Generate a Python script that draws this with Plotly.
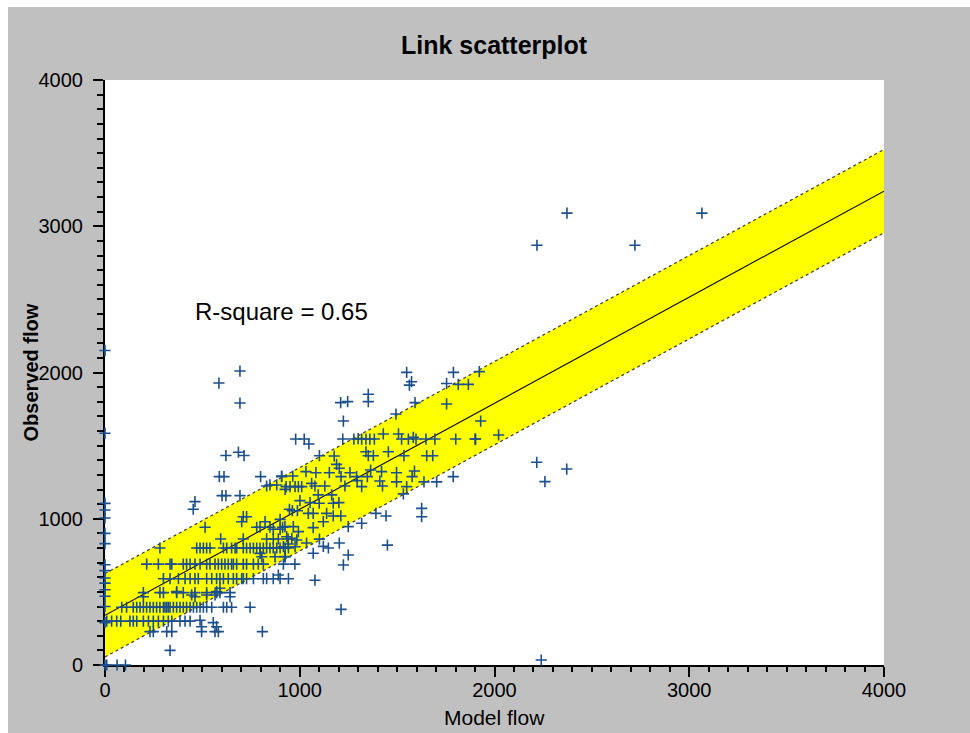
import plotly.graph_objects as go

# ---- observed vs modelled link flows --------------------------------------
model_flow = [
    # links with zero model flow
    0, 0, 0, 0, 0, 0, 0, 0, 0, 0, 0, 0, 0, 0, 0, 0,
    # zero observed flow
    9, 62, 105,
    # low observed flows
    334, 231, 248, 317, 343, 496, 565, 582, 808, 556, 573, 488, 496,
    # 300 row
    9, 34, 60, 81, 128, 145, 163, 197, 223, 248, 274, 300, 325, 343, 385, 411, 437,
    # 400 row
    86, 111, 145, 163, 180, 197, 214, 231, 248, 265, 282, 300, 308, 317, 325, 334,
    351, 368, 385, 402, 419, 437, 454, 471, 488, 505, 522, 548, 608, 625, 650, 745, 1212,
    # 500 row
    197, 282, 300, 368, 402, 462, 522, 573, 590, 642,
    # around 500
    197, 368, 445, 462, 522, 573, 565, 590, 642,
    # 590 row
    300, 334, 377, 411, 437, 462, 479, 522, 548, 573, 590, 608, 633, 659, 676, 702,
    710, 727, 762, 813, 830, 864, 899, 942, 1078, 890,
    # 690 row
    214, 274, 334, 343, 402, 419, 437, 462, 488, 522, 539, 565, 582, 599, 616, 633,
    650, 659, 676, 710, 727, 762, 787, 813, 916, 975,
    # 800 row
    282, 471, 488, 505, 522, 539, 608, 625, 650, 668, 676, 710, 727, 745, 762, 779,
    796, 813, 830, 847, 864, 882, 899, 925, 942,
    # scattered, model flow below 1000
    462, 453, 621, 685, 714, 587, 611, 601, 621, 693, 799, 907, 830, 847, 882, 925,
    947, 710, 727, 702, 822, 514, 779, 796, 847, 864, 899, 912, 594, 710, 830, 864,
    890, 940, 796, 805, 873, 925, 585, 693, 693,
    # model flow 900 - 2000
    1549, 1789, 1922, 1574, 1563, 1754, 1814, 1866, 1352, 1352, 1210, 1246, 1592,
    1754, 1224, 1494, 979, 1023, 1047, 1221, 1278, 1300, 1318, 1340, 1360, 1383,
    1429, 1507, 1523, 1558, 1583, 1597, 1648, 1694, 1801, 1903,
    1101, 1177, 1340, 1352, 1378, 1455, 1535, 1652, 1683,
    1189, 1203, 907, 964, 1032, 1083, 1152, 1212, 1258, 1292, 1347, 1364, 1420,
    1497, 1589, 1577, 1788,
    930, 950, 976, 993, 1010, 1061, 1078, 1129, 1232, 1295, 1318, 1411, 1425, 1497,
    1549, 1638, 1703,
    1001, 1053, 1095, 1100, 1164, 1172, 1201, 1532,
    962, 988, 1044, 1069, 1138, 1172, 1211, 1121, 1391, 1443, 1626, 1626, 1318, 1249,
    899, 924, 967, 993, 1069,
    933, 959, 985, 941, 916, 976, 1035, 1101, 1121, 1147, 1203, 1069, 1249, 1224,
    1450, 924,
    2021, 1929, 1900,
    # high flows
    2217, 2371, 2259, 2218, 2372, 2721, 3065, 2240,
]

observed_flow = [
    0, 290, 400, 470, 515, 560, 595, 645, 685, 830, 900, 1005, 1060, 1105, 1585, 2150,
    0, 0, 0,
    100, 228, 228, 228, 228, 228, 228, 228, 228, 290, 262, 306, 262,
    300, 300, 300, 300, 300, 300, 300, 300, 300, 300, 300, 300, 300, 300, 300, 300, 300,
    395, 395, 395, 395, 395, 395, 395, 395, 395, 395, 395, 395, 395, 395, 395, 395,
    395, 395, 395, 395, 395, 395, 395, 395, 395, 395, 395, 395, 395, 395, 395, 395, 380,
    495, 495, 495, 495, 495, 495, 495, 495, 495, 495,
    467, 502, 479, 467, 479, 502, 479, 525, 467,
    590, 590, 590, 590, 590, 590, 590, 590, 590, 590, 590, 590, 590, 590, 590, 590,
    590, 590, 590, 590, 590, 590, 590, 590, 580, 615,
    690, 690, 690, 690, 690, 690, 690, 690, 690, 690, 690, 690, 690, 690, 690, 690,
    690, 690, 690, 690, 690, 690, 690, 690, 690, 690,
    800, 800, 800, 800, 800, 800, 800, 800, 800, 800, 800, 800, 800, 800, 800, 800,
    800, 800, 800, 800, 800, 800, 800, 800, 800,
    1117, 1065, 1432, 1455, 1432, 1288, 1288, 1158, 1158, 1158, 1288, 1288, 1224, 1231,
    1231, 1201, 1065, 1014, 1014, 980, 980, 942, 942, 942, 942, 928, 928, 942, 862,
    862, 862, 862, 862, 862, 763, 740, 740, 740, 1928, 2010, 1791,
    2001, 2001, 2006, 1937, 1914, 1925, 1919, 1919, 1851, 1801, 1794, 1801, 1794,
    1785, 1668, 1716, 1545, 1545, 1511, 1545, 1545, 1548, 1545, 1545, 1545, 1545,
    1580, 1580, 1545, 1545, 1557, 1545, 1545, 1545, 1545, 1545,
    1431, 1429, 1458, 1431, 1431, 1458, 1431, 1431, 1431,
    1372, 1345, 1292, 1292, 1322, 1315, 1315, 1288, 1315, 1288, 1288, 1333, 1322,
    1315, 1326, 1288, 1288,
    1220, 1220, 1220, 1220, 1220, 1242, 1224, 1224, 1224, 1261, 1220, 1258, 1224, 1252,
    1220, 1252, 1252,
    1124, 1110, 1163, 1106, 1163, 1106, 1110, 1170,
    1055, 1055, 1037, 1037, 1037, 1019, 1019, 980, 1037, 1019, 1071, 1014, 969, 946,
    996, 946, 946, 912, 939,
    877, 866, 855, 827, 809, 809, 834, 861, 811, 800, 834, 764, 752, 684,
    820, 741,
    1573, 1668, 1545,
    1386, 1340, 1254, 2870, 3090, 2870, 3090, 34,
]

# fitted relation and its acceptance band
fit_slope = 0.725
fit_intercept = 340.0
band_halfwidth = 285.0
axis_range = [0, 4000]
tick_values = [0, 1000, 2000, 3000, 4000]
r_square_text = "R-square = 0.65"

fit_y = [fit_intercept + fit_slope * x for x in axis_range]
band_low = [y - band_halfwidth for y in fit_y]
band_high = [y + band_halfwidth for y in fit_y]

FONT = "Arial, Liberation Sans, sans-serif"
GRAY = "#c0c0c0"

fig = go.Figure()

fig.add_trace(go.Scatter(
    x=axis_range, y=band_low, mode="lines",
    line=dict(color="#3a3a3a", width=1.2, dash="3px,3px"),
    hoverinfo="skip", showlegend=False,
))
fig.add_trace(go.Scatter(
    x=axis_range, y=band_high, mode="lines", fill="tonexty", fillcolor="#ffff00",
    line=dict(color="#3a3a3a", width=1.2, dash="3px,3px"),
    hoverinfo="skip", showlegend=False,
))
fig.add_trace(go.Scatter(
    x=axis_range, y=fit_y, mode="lines",
    line=dict(color="#000000", width=1.1),
    hoverinfo="skip", showlegend=False,
))
fig.add_trace(go.Scatter(
    x=model_flow, y=observed_flow, mode="markers", cliponaxis=False,
    marker=dict(symbol="cross-thin", size=8,
                line=dict(color="#1d4f8c", width=1.6)),
    showlegend=False,
))

axis_common = dict(
    range=axis_range, tickvals=tick_values, ticks="outside", ticklen=10,
    tickwidth=1.5, tickcolor="#000000", showline=True, linecolor="#000000",
    linewidth=2, showgrid=False, zeroline=False, layer="below traces",
    tickfont=dict(family=FONT, size=20, color="#000000"),
)

fig.update_layout(
    width=970, height=733, autosize=False,
    margin=dict(l=105, r=86, t=80, b=68, pad=0),
    paper_bgcolor=GRAY, plot_bgcolor="#ffffff",
    xaxis=dict(**axis_common, ticklabelstandoff=-4,
               minor=dict(dtick=100, ticks="outside", ticklen=5, tickwidth=1.5,
                          tickcolor="#000000", showgrid=False)),
    yaxis=dict(**axis_common, ticklabelstandoff=6,
               minor=dict(dtick=100, ticks="outside", ticklen=6, tickwidth=1.5,
                          tickcolor="#000000", showgrid=False)),
    font=dict(family=FONT, color="#000000"),
    showlegend=False,
    shapes=[
        # thin white frame on the top and left edges of the window
        dict(type="rect", xref="paper", yref="paper", x0=-0.2, x1=1.2,
             y0=(665 - 7) / 585, y1=1.3, fillcolor="#ffffff", line_width=0,
             layer="below"),
        dict(type="rect", xref="paper", yref="paper", x0=-0.2, x1=(8 - 105) / 779,
             y0=-0.2, y1=1.3, fillcolor="#ffffff", line_width=0, layer="below"),
    ],
    annotations=[
        dict(text="<b>Link scatterplot</b>", xref="paper", yref="paper",
             x=0.5, y=(665 - 45) / 585, xanchor="center", yanchor="middle",
             showarrow=False, font=dict(family=FONT, size=25, color="#000000")),
        dict(text="Model flow", xref="paper", yref="paper",
             x=0.5, y=(665 - 718) / 585, xanchor="center", yanchor="middle",
             showarrow=False, font=dict(family=FONT, size=21, color="#000000")),
        dict(text="<b>Observed flow</b>", xref="paper", yref="paper",
             x=(30 - 105) / 779, y=0.5, xanchor="center", yanchor="middle",
             textangle=-90, showarrow=False,
             font=dict(family=FONT, size=20, color="#000000")),
        dict(text=r_square_text, xref="x", yref="y", x=450, y=2420,
             xanchor="left", yanchor="middle", showarrow=False,
             font=dict(family=FONT, size=24, color="#000000")),
    ],
)

fig.write_html("out.html")
